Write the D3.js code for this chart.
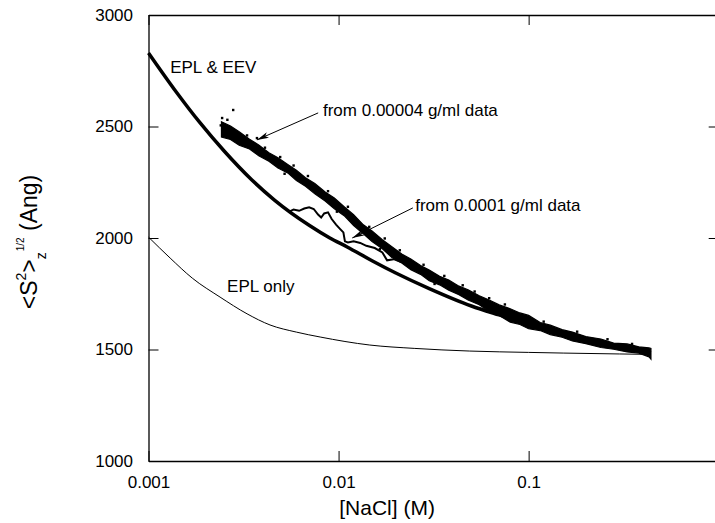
<!DOCTYPE html>
<html>
<head>
<meta charset="utf-8">
<script src="https://cdn.jsdelivr.net/npm/d3@7"></script>
<style>
  html, body { margin: 0; padding: 0; background: #fff; }
  svg { display: block; font-family: Arial, "Liberation Sans", Helvetica, sans-serif; }
</style>
</head>
<body>
<svg id="chart" width="715" height="523"></svg>
<script>
// ---------- data ----------
const xTicks = [0.001, 0.01, 0.1, 1];
const xTickLabels = ["0.001", "0.01", "0.1", ""];
const yTicks = [1000, 1500, 2000, 2500, 3000];

// EPL & EEV (thick theory curve)
const eevC = [0.001, 0.0014, 0.00187, 0.0025, 0.0035, 0.0046, 0.007, 0.009, 0.0111, 0.015, 0.02, 0.03, 0.05, 0.07, 0.1, 0.15, 0.2, 0.3, 0.44];
const eevV = [2830, 2655, 2516, 2390, 2260, 2170, 2057, 2000, 1960, 1898, 1843, 1773, 1695, 1655, 1615, 1572, 1545, 1510, 1485];

// EPL only (thin theory curve)
const eplC = [0.001, 0.0013, 0.0017, 0.00238, 0.0033, 0.00436, 0.006, 0.008, 0.0146, 0.025, 0.049, 0.1, 0.152, 0.3, 0.44];
const eplV = [2004, 1910, 1820, 1735, 1660, 1610, 1578, 1556, 1520, 1505, 1493, 1487, 1484, 1480, 1478];

// data from 0.00004 g/ml (band: low / high edge)
const dataAC  = [0.00242, 0.0027, 0.0030, 0.0034, 0.0038, 0.0043, 0.0048, 0.0054, 0.0060, 0.0067, 0.0075, 0.0085, 0.0095, 0.0107, 0.012, 0.0135, 0.015, 0.017, 0.019, 0.0215, 0.024, 0.027, 0.030, 0.034, 0.038, 0.043, 0.048, 0.055, 0.062, 0.07, 0.08, 0.09, 0.10, 0.115, 0.13, 0.15, 0.17, 0.20, 0.24, 0.28, 0.33, 0.38, 0.43, 0.44];
const dataALo = [2453, 2442, 2416, 2399, 2369, 2344, 2314, 2292, 2258, 2232, 2198, 2166, 2131, 2100, 2056, 2019, 1984, 1952, 1914, 1888, 1858, 1837, 1808, 1790, 1766, 1746, 1722, 1701, 1670, 1652, 1623, 1612, 1593, 1585, 1567, 1555, 1538, 1526, 1509, 1501, 1489, 1484, 1467, 1457];
const dataAHi = [2521, 2502, 2476, 2443, 2417, 2382, 2360, 2330, 2304, 2270, 2244, 2206, 2179, 2140, 2104, 2059, 2032, 1992, 1962, 1928, 1906, 1877, 1856, 1828, 1812, 1784, 1768, 1741, 1722, 1700, 1683, 1664, 1653, 1621, 1609, 1589, 1578, 1558, 1547, 1529, 1525, 1512, 1507, 1505];
const outlierC = [0.00279, 0.00244, 0.00372, 0.00493, 0.0026, 0.0058, 0.0112, 0.0175, 0.028, 0.045, 0.062, 0.0033, 0.0041, 0.0069, 0.0088, 0.0145, 0.021, 0.036, 0.052, 0.075, 0.12, 0.18, 0.26, 0.35, 0.0024, 0.0052, 0.0098, 0.0165, 0.032];
const outlierV = [2574, 2538, 2448, 2363, 2530, 2325, 2140, 1998, 1880, 1788, 1730, 2460, 2405, 2278, 2210, 2050, 1945, 1830, 1760, 1702, 1625, 1580, 1546, 1525, 2505, 2288, 2118, 1950, 1794];

// data from 0.0001 g/ml (wiggly trace)
const dataBC = [0.0055, 0.0058, 0.0062, 0.0066, 0.0070, 0.0074, 0.0078, 0.0081, 0.0084, 0.0088, 0.0092, 0.0097, 0.0102, 0.0106, 0.0108, 0.0112, 0.012, 0.013, 0.014, 0.0155, 0.017, 0.018, 0.0195, 0.021, 0.023, 0.025, 0.027, 0.030, 0.033, 0.037, 0.042, 0.047, 0.053, 0.06, 0.07, 0.08, 0.09, 0.1];
const dataBV = [2118, 2128, 2122, 2132, 2138, 2130, 2105, 2092, 2110, 2115, 2085, 2060, 2040, 2025, 1985, 1980, 1985, 1978, 1965, 1955, 1935, 1900, 1905, 1895, 1888, 1870, 1862, 1840, 1818, 1800, 1772, 1748, 1728, 1705, 1680, 1655, 1640, 1628];

// annotations (data coordinates)
const labelTexts = ["EPL & EEV", "EPL only", "from 0.00004 g/ml data", "from 0.0001 g/ml data"];
const labelC = [0.0013, 0.00259, 0.00828, 0.0253];
const labelV = [2740, 1758, 2547, 2121];
const arrowFromC = [0.00781, 0.0246];
const arrowFromV = [2561, 2135];
const arrowToC = [0.00372, 0.0118];
const arrowToV = [2440, 2000];

// ---------- chart ----------
const svg = d3.select("#chart");
const x = d3.scaleLog().domain([0.001, 1]).range([148.5, 718.7]);
const y = d3.scaleLinear().domain([1000, 3000]).range([461, 15]);

const defs = svg.append("defs");
defs.append("marker").attr("id", "arr").attr("viewBox", "0 0 12 6")
  .attr("refX", 12).attr("refY", 3).attr("markerWidth", 12).attr("markerHeight", 6)
  .attr("markerUnits", "userSpaceOnUse").attr("orient", "auto")
  .append("path").attr("d", "M0,0 L12,3 L0,6 L3,3 Z").attr("fill", "#000");

// axes
const fmt = d => xTickLabels[xTicks.indexOf(d)];
const gB = svg.append("g").attr("transform", `translate(0,${y(1000)})`)
  .call(d3.axisBottom(x).tickValues(xTicks).tickFormat(fmt).tickSizeInner(-10).tickSizeOuter(0).tickPadding(15));
const gT = svg.append("g").attr("transform", `translate(0,${y(3000)})`)
  .call(d3.axisTop(x).tickValues(xTicks).tickFormat("").tickSizeInner(-10).tickSizeOuter(0));
const gL = svg.append("g").attr("transform", `translate(${x(0.001)},0)`)
  .call(d3.axisLeft(y).tickValues(yTicks).tickFormat(d3.format("d")).tickSizeInner(-10).tickSizeOuter(0).tickPadding(15.5));
const gR = svg.append("g").attr("transform", `translate(${x(1)},0)`)
  .call(d3.axisRight(y).tickValues(yTicks).tickFormat("").tickSizeInner(-10).tickSizeOuter(0));
[gB, gT, gL, gR].forEach(g => {
  g.selectAll("path.domain").attr("stroke", "#000").attr("stroke-width", 1.3);
  g.selectAll(".tick line").attr("stroke", "#000").attr("stroke-width", 1);
  g.selectAll(".tick text").attr("font-size", 17).attr("fill", "#000").attr("font-family", "Arial, 'Liberation Sans', sans-serif");
});

// EPL only
const line = d3.line().x(d => x(d[0])).y(d => y(d[1])).curve(d3.curveMonotoneX);
svg.append("path").datum(eplC.map((c, i) => [c, eplV[i]]))
  .attr("d", line).attr("fill", "none").attr("stroke", "#000").attr("stroke-width", 1);

// data band A
const area = d3.area().x(d => x(d[0])).y0(d => y(d[1])).y1(d => y(d[2])).curve(d3.curveLinear);
svg.append("path").datum(dataAC.map((c, i) => [c, dataALo[i], dataAHi[i]]))
  .attr("d", area).attr("fill", "#000").attr("stroke", "#000").attr("stroke-width", 1.2);
svg.append("g").selectAll("rect").data(outlierC.map((c, i) => [c, outlierV[i]])).join("rect")
  .attr("x", d => x(d[0]) - 1.2).attr("y", d => y(d[1]) - 1.2).attr("width", 2.4).attr("height", 2.4).attr("fill", "#000");

// data B
svg.append("path").datum(dataBC.map((c, i) => [c, dataBV[i]]))
  .attr("d", d3.line().x(d => x(d[0])).y(d => y(d[1]))).attr("fill", "none").attr("stroke", "#000").attr("stroke-width", 2);

// EPL & EEV
svg.append("path").datum(eevC.map((c, i) => [c, eevV[i]]))
  .attr("d", line).attr("fill", "none").attr("stroke", "#000").attr("stroke-width", 3.5);

// annotation arrows
svg.append("g").selectAll("line").data(arrowFromC.map((c, i) => i)).join("line")
  .attr("x1", i => x(arrowFromC[i])).attr("y1", i => y(arrowFromV[i]))
  .attr("x2", i => x(arrowToC[i])).attr("y2", i => y(arrowToV[i]))
  .attr("stroke", "#000").attr("stroke-width", 1).attr("marker-end", "url(#arr)");

svg.append("g").selectAll("text").data(labelTexts).join("text")
  .attr("x", (d, i) => x(labelC[i])).attr("y", (d, i) => y(labelV[i]))
  .attr("font-size", 17).attr("fill", "#000").text(d => d);

// axis titles
svg.append("text").attr("x", x(0.018)).attr("y", 515).attr("text-anchor", "middle")
  .attr("font-size", 21).text("[NaCl] (M)");

const yt = svg.append("text").attr("transform", "translate(37,242) rotate(-90)")
  .attr("text-anchor", "middle").attr("font-size", 23);
yt.append("tspan").text("<S");
yt.append("tspan").attr("font-size", 14).attr("dy", -11).text("2");
yt.append("tspan").attr("dy", 11).text(">");
yt.append("tspan").attr("font-size", 14).attr("dy", 9).text("z");
yt.append("tspan").attr("font-size", 10).attr("dy", -22).attr("dx", 1).text("1/2");
yt.append("tspan").attr("dy", 13).text(" (Ang)");
</script>
</body>
</html>
